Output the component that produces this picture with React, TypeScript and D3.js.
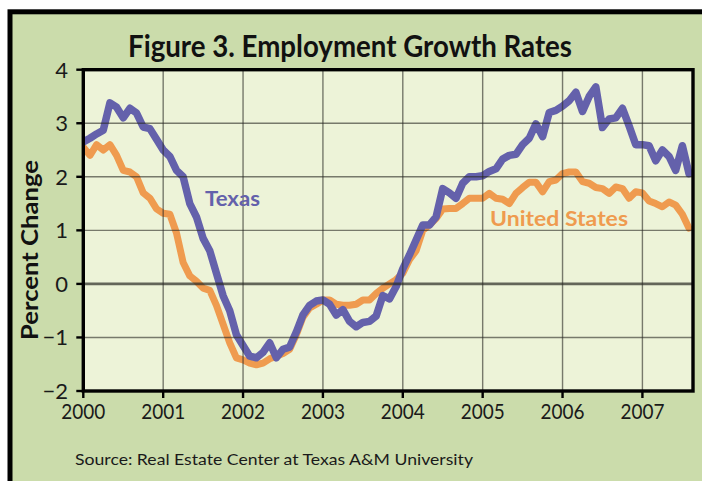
import React from "react";
import * as d3 from "d3";

const texas: number[] = [
  2.65, 2.72, 2.8, 2.87, 3.38, 3.3, 3.1, 3.28, 3.19, 2.93, 2.9, 2.7,
  2.5, 2.38, 2.12, 2.0, 1.5, 1.25, 0.85, 0.62, 0.2, -0.22, -0.5, -0.95,
  -1.15, -1.35, -1.38, -1.28, -1.1, -1.38, -1.22, -1.18, -0.9, -0.58, -0.4, -0.32,
  -0.3, -0.38, -0.58, -0.48, -0.7, -0.8, -0.72, -0.7, -0.6, -0.22, -0.28, -0.05,
  0.28, 0.54, 0.82, 1.1, 1.1, 1.25, 1.78, 1.7, 1.6, 1.88, 2.0, 2.0,
  2.02, 2.1, 2.15, 2.33, 2.4, 2.42, 2.6, 2.72, 2.99, 2.75, 3.2, 3.24,
  3.32, 3.42, 3.58, 3.22, 3.5, 3.68, 2.92, 3.08, 3.1, 3.28, 2.95, 2.6,
  2.6, 2.58, 2.3, 2.5, 2.38, 2.12, 2.58, 2.06,
];

const unitedStates: number[] = [
  2.55, 2.4, 2.6, 2.5, 2.6, 2.4, 2.12, 2.09, 2.0, 1.7, 1.6, 1.4,
  1.32, 1.3, 0.95, 0.4, 0.15, 0.05, -0.08, -0.12, -0.4, -0.75, -1.1, -1.38,
  -1.42, -1.48, -1.51, -1.48, -1.4, -1.35, -1.3, -1.22, -0.95, -0.62, -0.45, -0.38,
  -0.3, -0.3, -0.38, -0.4, -0.4, -0.38, -0.3, -0.3, -0.18, -0.08, 0.0, 0.08,
  0.2, 0.45, 0.62, 1.0, 1.1, 1.22, 1.4, 1.41, 1.41, 1.5, 1.6, 1.6,
  1.6, 1.69, 1.6, 1.58, 1.5, 1.69, 1.8, 1.9, 1.9, 1.72, 1.91, 1.94,
  2.06, 2.09, 2.09, 1.91, 1.88, 1.8, 1.78, 1.69, 1.81, 1.78, 1.6, 1.72,
  1.7, 1.55, 1.5, 1.44, 1.53, 1.47, 1.3, 1.04,
];

const yearLabels: string[] = ["2000", "2001", "2002", "2003", "2004", "2005", "2006", "2007"];
const yTicks: number[] = [-2, -1, 0, 1, 2, 3, 4];

const W = 702;
const H = 481;
const left = 83.3;
const right = 693;
const top = 69.7;
const bottom = 391;

export default function App() {
  const x = d3.scaleLinear().domain([0, 91.6]).range([left, right]);
  const y = d3.scaleLinear().domain([-2, 4]).range([bottom, top]);
  const line = d3
    .line<number>()
    .x((_, i) => x(i))
    .y((v) => y(v))
    .curve(d3.curveLinear);

  const font = "Lato, 'Open Sans', sans-serif";
  const yearTicks = yearLabels.map((lab, i) => ({ lab, m: i * 12 }));

  return (
    <div style={{ position: "fixed", left: 0, top: 0 }}>
      <svg width={W} height={H} style={{ display: "block" }}>
        <rect x={0} y={0} width={W} height={H} fill="#ffffff" />
        <rect x={10} y={11.8} width={W + 20} height={H + 20} fill="#cbdcab" stroke="#000" strokeWidth={5} />
        <text
          x={350}
          y={57}
          textAnchor="middle"
          fontFamily={font}
          fontWeight={700}
          fontSize={30}
          textLength={444}
          lengthAdjust="spacingAndGlyphs"
          fill="#111"
        >
          Figure 3. Employment Growth Rates
        </text>
        <defs>
          <clipPath id="plotclip">
            <rect x={left} y={top} width={right - left} height={bottom - top} />
          </clipPath>
        </defs>
        <rect x={left} y={top} width={right - left} height={bottom - top} fill="#edf3d8" />
        <g clipPath="url(#plotclip)">
          <path d={line(unitedStates) || ""} fill="none" stroke="#ef9b4f" strokeWidth={7} strokeLinejoin="round" strokeLinecap="round" />
          <path d={line(texas) || ""} fill="none" stroke="#6461ab" strokeWidth={7.5} strokeLinejoin="round" strokeLinecap="round" />
        </g>
        {yTicks.filter((t) => t > -2 && t < 4).map((t) => (
          <line
            key={"gy" + t}
            x1={left}
            x2={right}
            y1={y(t)}
            y2={y(t)}
            stroke={t === 0 ? "rgba(40,40,35,0.7)" : "rgba(40,40,35,0.6)"}
            strokeWidth={t === 0 ? 2.6 : 1.4}
          />
        ))}
        {yearTicks.slice(1).map((d) => (
          <line key={"gx" + d.lab} x1={x(d.m)} x2={x(d.m)} y1={top} y2={bottom} stroke="rgba(40,40,35,0.6)" strokeWidth={1.4} />
        ))}
        <rect x={left} y={top} width={right - left} height={bottom - top} fill="none" stroke="#000" strokeWidth={3.4} />
        {yTicks.map((t) => (
          <g key={"yt" + t}>
            <line x1={left - 7} x2={left} y1={y(t)} y2={y(t)} stroke="#000" strokeWidth={2.4} />
            <text
              x={68}
              y={y(t) + 8}
              textAnchor="end"
              fontFamily={font}
              fontSize={22}
              fill="#1a1a1a"
            >
              {t < 0 ? "\u2212" + Math.abs(t) : String(t)}
            </text>
          </g>
        ))}
        {yearTicks.map((d) => (
          <g key={"xt" + d.lab}>
            <line x1={x(d.m)} x2={x(d.m)} y1={bottom} y2={bottom + 7} stroke="#000" strokeWidth={2.4} />
            <text
              x={x(d.m)}
              y={419}
              textAnchor="middle"
              fontFamily={font}
              fontSize={22}
              textLength={44}
              lengthAdjust="spacingAndGlyphs"
              fill="#1a1a1a"
            >
              {d.lab}
            </text>
          </g>
        ))}
        <text
          transform="translate(38,250) rotate(-90)"
          textAnchor="middle"
          fontFamily={font}
          fontWeight={700}
          fontSize={22}
          textLength={180}
          lengthAdjust="spacingAndGlyphs"
          fill="#111"
        >
          Percent Change
        </text>
        <text x={205} y={206} fontFamily={font} fontWeight={700} fontSize={21} textLength={55} lengthAdjust="spacingAndGlyphs" fill="#6461ab">
          Texas
        </text>
        <text x={490} y={226} fontFamily={font} fontWeight={700} fontSize={21} textLength={138} lengthAdjust="spacingAndGlyphs" fill="#ef9b4f">
          United States
        </text>
        <text x={75} y={465} fontFamily={font} fontSize={16} textLength={398} lengthAdjust="spacingAndGlyphs" fill="#1a1a1a">
          Source: Real Estate Center at Texas A&amp;M University
        </text>
      </svg>
    </div>
  );
}
